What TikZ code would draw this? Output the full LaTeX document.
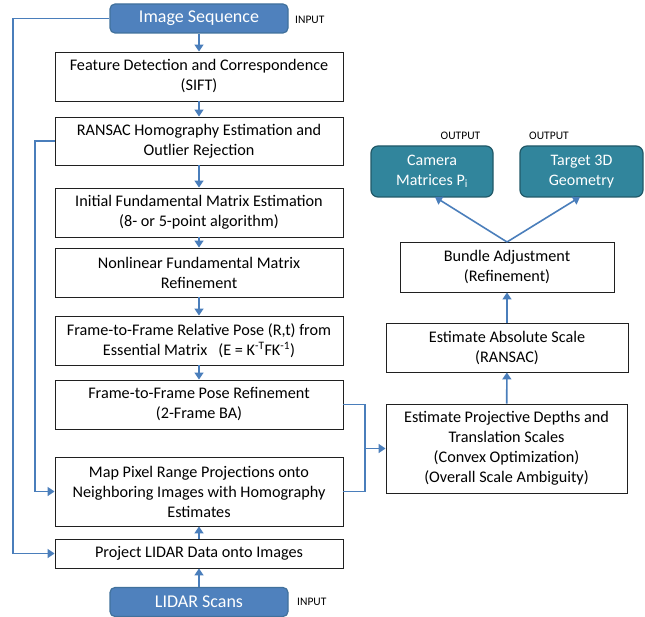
\documentclass[tikz,border=0pt]{standalone}
\usepackage{fontspec}
\setmainfont{Carlito}
\usetikzlibrary{arrows.meta}
\definecolor{lineblue}{HTML}{4A7EBB}
\definecolor{boxblue}{HTML}{4F81BD}
\definecolor{boxblueb}{HTML}{41719C}
\definecolor{teal}{HTML}{31859C}
\definecolor{tealb}{HTML}{215968}
\definecolor{boxline}{HTML}{202020}
\begin{document}
\begin{tikzpicture}[x=1pt,y=-1pt,
  proc/.style={draw=boxline,line width=0.9pt,fill=white,align=center,inner sep=0pt,
    font=\fontsize{16.2}{20}\selectfont},
  inbox/.style={draw=boxblueb,line width=1.2pt,fill=boxblue,rounded corners=5pt,text=white,
    inner sep=0pt,minimum width=178pt,minimum height=29pt,font=\fontsize{18}{22}\selectfont},
  outbox/.style={draw=tealb,line width=1.2pt,fill=teal,rounded corners=7pt,text=white,align=center,
    inner sep=0pt,minimum width=122pt,minimum height=51pt,font=\fontsize{16}{19.5}\selectfont},
  tag/.style={inner sep=0pt,font=\fontsize{11.5}{13}\selectfont},
  conn/.style={draw=lineblue,line width=1.6pt},
  arr/.style={conn,-{Triangle[width=9pt,length=7pt]}}
]
\useasboundingbox (0,0) rectangle (645,617);

% left column
\node[inbox] (imgseq) at (199,18.5) {Image Sequence};
\node[tag,anchor=west] (in1) at (295,20) {INPUT};
\node[proc,minimum width=288pt,minimum height=49pt] (feat) at (199,76.5)
  {Feature Detection and Correspondence\\(SIFT)};
\node[proc,minimum width=288pt,minimum height=48pt] (ransac) at (199,141)
  {RANSAC Homography Estimation and\\Outlier Rejection};
\node[proc,minimum width=288pt,minimum height=49pt] (init) at (199,212.5)
  {Initial Fundamental Matrix Estimation\\(8- or 5-point algorithm)};
\node[proc,minimum width=288pt,minimum height=49pt] (nonlin) at (199,272.5)
  {Nonlinear Fundamental Matrix\\Refinement};
\node[proc,minimum width=288pt,minimum height=49pt] (rel) at (199,340.5)
  {Frame-to-Frame Relative Pose (R,t) from\\Essential Matrix~~~(E = K\textsuperscript{-T}FK\textsuperscript{-1})};
\node[proc,minimum width=288pt,minimum height=49pt] (ref) at (199,404.5)
  {Frame-to-Frame Pose Refinement\\(2-Frame BA)};
\node[proc,minimum width=288pt,minimum height=69pt] (map) at (199,491.5)
  {Map Pixel Range Projections onto\\Neighboring Images with Homography\\Estimates};
\node[proc,minimum width=288pt,minimum height=29pt] (proj) at (199,553.5)
  {Project LIDAR Data onto Images};
\node[inbox] (lidar) at (199,602) {LIDAR Scans};
\node[tag,anchor=west] (in2) at (297,601.5) {INPUT};

% right column
\node[proc,minimum width=241pt,minimum height=89pt] (est) at (506.5,448.5)
  {Estimate Projective Depths and\\Translation Scales\\(Convex Optimization)\\(Overall Scale Ambiguity)};
\node[proc,minimum width=242pt,minimum height=49pt] (abs) at (507,347.5)
  {Estimate Absolute Scale\\(RANSAC)};
\node[proc,minimum width=214pt,minimum height=50pt] (bundle) at (507,267)
  {Bundle Adjustment\\(Refinement)};
\node[outbox] (cam) at (432,171.5) {Camera\\Matrices P\textsubscript{i}};
\node[outbox,minimum width=123pt] (tgt) at (581.5,171.5) {Target 3D\\Geometry};
\node[tag] (out1) at (460.5,136) {OUTPUT};
\node[tag] (out2) at (549,136) {OUTPUT};

% coordinates
\coordinate (l1a) at (13,18.5);
\coordinate (l1b) at (13,553.5);
\coordinate (l2a) at (35,141);
\coordinate (l2b) at (35,491.5);
\coordinate (r1a) at (365,404.5);
\coordinate (r1b) at (365,491.5);
\coordinate (rm) at (365,448.5);
\coordinate (bt) at (507,242);
\coordinate (camb) at (435,197);
\coordinate (tgtb) at (580,197);

% vertical chain
\draw[arr] (imgseq) -- (feat);
\draw[arr] (feat) -- (ransac);
\draw[arr] (ransac) -- (init);
\draw[arr] (init) -- (nonlin);
\draw[arr] (nonlin) -- (rel);
\draw[arr] (rel) -- (ref);
\draw[arr] (lidar) -- (proj);
\draw[arr] (proj) -- (map);

% left loops
\draw[arr] (imgseq.west) -- (l1a) -- (l1b) -- (proj.west);
\draw[arr] (ransac.west) -- (l2a) -- (l2b) -- (map.west);

% right merge
\draw[conn] (ref.east) -- (r1a) -- (r1b) -- (map.east);
\draw[arr] (rm) -- (est.west);

% right chain
\draw[arr] (est) -- (abs);
\draw[arr] (abs) -- (bundle);
\draw[arr] (bt) -- (camb);
\draw[arr] (bt) -- (tgtb);
\end{tikzpicture}
\end{document}
